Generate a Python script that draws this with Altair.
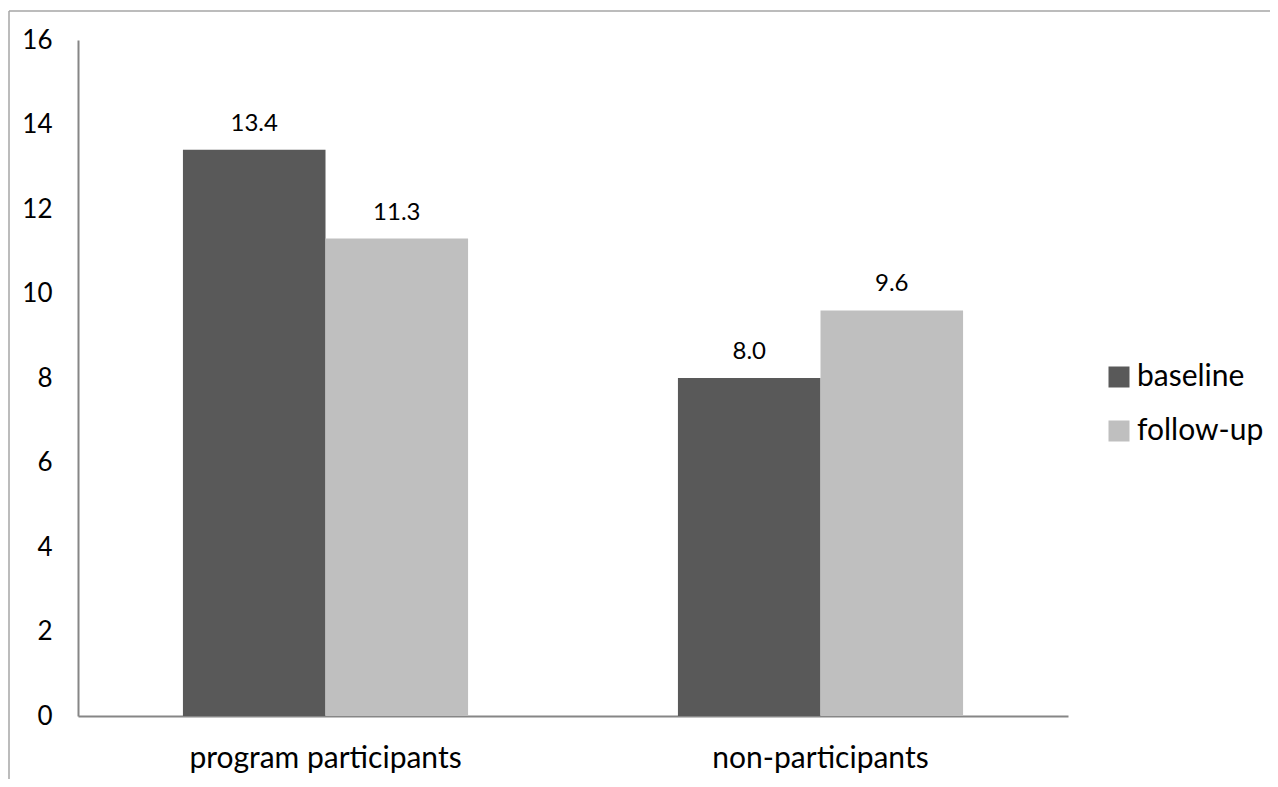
import altair as alt
import pandas as pd

groups = ["program participants", "non-participants"]
periods = ["baseline", "follow-up"]
baseline_vals = [13.4, 8.0]
followup_vals = [11.3, 9.6]
y_ticks = [0, 2, 4, 6, 8, 10, 12, 14, 16]
colors = ["#595959", "#bfbfbf"]

rows = []
for g, b, f in zip(groups, baseline_vals, followup_vals):
    rows.append({"group": g, "period": periods[0], "value": b})
    rows.append({"group": g, "period": periods[1], "value": f})
df = pd.DataFrame(rows)
df["label"] = df["value"].map(lambda v: f"{v:.1f}")

FONT = "Lato"

x_enc = alt.X("group:N", sort=groups,
              scale=alt.Scale(paddingInner=0.424, paddingOuter=0.212),
              axis=alt.Axis(title=None, labelAngle=0, ticks=False, domainColor="#868686",
                            domainWidth=2, labelFontSize=30, labelPadding=27, labelLimit=0,
                            labelColor="#000000", labelFont=FONT))
xoff = alt.XOffset("period:N", sort=periods)
y_enc = alt.Y("value:Q", scale=alt.Scale(domain=[0, 16], nice=False),
              axis=alt.Axis(title=None, values=y_ticks, grid=False, ticks=False,
                            domainColor="#868686", domainWidth=2, labelFontSize=26,
                            labelPadding=26, labelColor="#000000", labelFont=FONT))

bars = alt.Chart(df).mark_bar().encode(
    x=x_enc, xOffset=xoff, y=y_enc,
    color=alt.Color("period:N", sort=periods,
                    scale=alt.Scale(domain=periods, range=colors),
                    legend=alt.Legend(title=None, orient="none", legendX=1026, legendY=322,
                                      symbolType="square", symbolSize=441,
                                      symbolStrokeWidth=0, labelFontSize=30,
                                      labelFont=FONT, labelColor="#000000",
                                      rowPadding=24, labelOffset=3, labelLimit=0)),
)

labels = alt.Chart(df).mark_text(baseline="bottom", dy=-14, fontSize=24, font=FONT,
                                 color="#000000").encode(
    x=alt.X("group:N", sort=groups), xOffset=xoff, y="value:Q", text="label:N"
)

frame_left = alt.Chart(pd.DataFrame({"a": [0]})).mark_rule(color="#a6a6a6", strokeWidth=1.5).encode(
    x=alt.value(-69), y=alt.value(-29), y2=alt.value(760)
)
frame_top = alt.Chart(pd.DataFrame({"a": [0]})).mark_rule(color="#a6a6a6", strokeWidth=1.5).encode(
    x=alt.value(-69), x2=alt.value(1200), y=alt.value(-29)
)

chart = alt.layer(bars, labels, frame_left, frame_top).properties(
    width=990, height=676,
    autosize=alt.AutoSizeParams(type="none"),
    padding={"left": 70, "top": 32, "right": 202, "bottom": 63},
).configure(background="white").configure_view(stroke=None)

chart.save("out.html", embed_options={"renderer": "svg", "actions": False})
